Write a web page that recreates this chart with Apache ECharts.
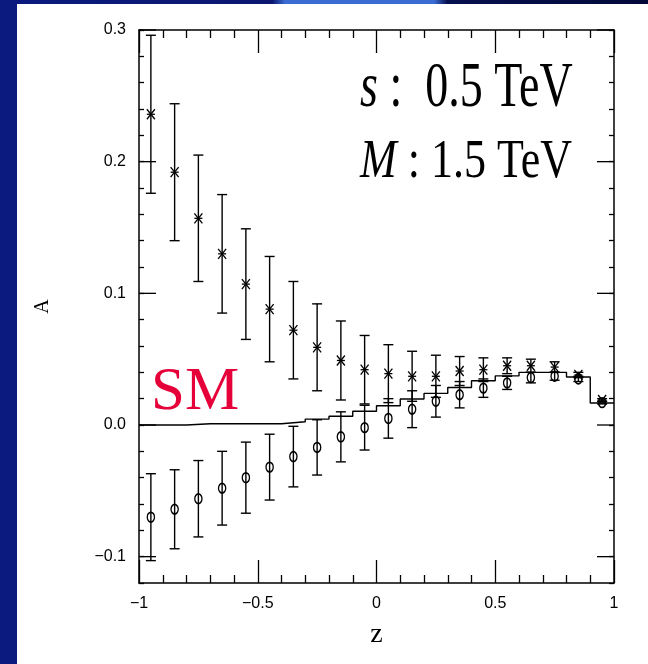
<!DOCTYPE html>
<html>
<head>
<meta charset="utf-8">
<script src="https://cdn.jsdelivr.net/npm/echarts@6/dist/echarts.min.js"></script>
<style>
  html, body { margin: 0; padding: 0; background: #ffffff; }
  #chart { width: 648px; height: 664px; }
</style>
</head>
<body>
<div id="chart"></div>
<script>
// Bin centres in z = cos(theta)
const binCentres = [-0.95, -0.85, -0.75, -0.65, -0.55, -0.45, -0.35, -0.25, -0.15, -0.05,
                    0.05, 0.15, 0.25, 0.35, 0.45, 0.55, 0.65, 0.75, 0.85, 0.95];

// Asymmetry with the heavy state (asterisks) and its statistical error
const heavyA   = [0.236, 0.192, 0.157, 0.130, 0.107, 0.088, 0.072, 0.059, 0.049, 0.042,
                  0.039, 0.037, 0.037, 0.041, 0.042, 0.045, 0.045, 0.044, 0.038, 0.019];
const heavyErr = [0.060, 0.052, 0.048, 0.045, 0.042, 0.040, 0.037, 0.033, 0.030, 0.026,
                  0.022, 0.019, 0.016, 0.011, 0.009, 0.006, 0.005, 0.004, 0.002, 0.001];

// Second set (open circles) and its error
const otherA   = [-0.070, -0.064, -0.056, -0.048, -0.040, -0.032, -0.024, -0.017, -0.009, -0.002,
                  0.005, 0.012, 0.018, 0.023, 0.028, 0.032, 0.036, 0.037, 0.035, 0.017];
const otherErr = [0.033, 0.030, 0.029, 0.028, 0.027, 0.025, 0.023, 0.021, 0.019, 0.017,
                  0.015, 0.014, 0.012, 0.010, 0.007, 0.005, 0.004, 0.003, 0.002, 0.001];

// Standard Model histogram: lower bin edges and bin contents
const smEdges  = [-1.0, -0.9, -0.8, -0.7, -0.6, -0.5, -0.4, -0.3, -0.2, -0.1,
                  0.0, 0.1, 0.2, 0.3, 0.4, 0.5, 0.6, 0.7, 0.8, 0.9];
const smLevels = [0.0, 0.0, 0.001, 0.001, 0.001, 0.001, 0.0025, 0.0045, 0.0066, 0.0104,
                  0.0146, 0.0197, 0.0240, 0.0285, 0.0336, 0.0373, 0.0400, 0.0400, 0.0365, 0.0167];
const smUpperEdge = 1.0;

// Tick labels
const xTickLabels = [-1, -0.5, 0, 0.5, 1];
const yTickLabels = [-0.1, 0.0, 0.1, 0.2, 0.3];

const INK = '#000000';
const minus = s => s.replace('-', '\u2212');

const histData = smEdges.map((e, i) => [e, smLevels[i]]);
histData.push([smUpperEdge, smLevels[smLevels.length - 1]]);

function seg(x1, y1, x2, y2, w) {
  return { type: 'line', shape: { x1, y1, x2, y2 }, style: { stroke: INK, lineWidth: w || 1.4 } };
}

function errorBars(kind) {
  return function (params, api) {
    const z = api.value(0), a = api.value(1), e = api.value(2);
    const top = api.coord([z, a + e]);
    const bot = api.coord([z, a - e]);
    const mid = api.coord([z, a]);
    const cap = 5;
    const kids = [
      seg(top[0], top[1], bot[0], bot[1]),
      seg(top[0] - cap, top[1], top[0] + cap, top[1]),
      seg(bot[0] - cap, bot[1], bot[0] + cap, bot[1])
    ];
    if (kind === 'star') {
      const w = 4, h = 5;
      kids.push(seg(mid[0] - w, mid[1] - h, mid[0] + w, mid[1] + h, 1.3));
      kids.push(seg(mid[0] - w, mid[1] + h, mid[0] + w, mid[1] - h, 1.3));
      kids.push(seg(mid[0] - w, mid[1], mid[0] + w, mid[1], 1.3));
    } else {
      kids.push({
        type: 'circle', x: mid[0], y: mid[1], scaleY: 1.35,
        shape: { cx: 0, cy: 0, r: 3.6 },
        style: { fill: 'none', stroke: INK, lineWidth: 1.3 }
      });
    }
    return { type: 'group', children: kids };
  };
}

// Long ticks at the labelled y values, on both the left and right frame edges
function majorYTicks(params, api) {
  const y = api.value(1);
  const l = api.coord([-1, y]);
  const r = api.coord([1, y]);
  const len = 17;
  return {
    type: 'group',
    children: [seg(l[0], l[1], l[0] + len, l[1], 1.3), seg(r[0] - len, r[1], r[0], r[1], 1.3)]
  };
}

const axisFont = { fontFamily: 'Liberation Sans', fontSize: 16, color: INK };

function xAxisDef(pos, labels) {
  return {
    type: 'value', position: pos, min: -1, max: 1, interval: 0.5,
    axisLine: { show: true, onZero: false, lineStyle: { color: INK, width: 1.5 } },
    axisTick: { show: true, inside: true, length: 23, lineStyle: { color: INK, width: 1.3 } },
    minorTick: { show: true, splitNumber: 5, length: 8, lineStyle: { color: INK, width: 1.3 } },
    axisLabel: labels ? Object.assign({
      show: true, margin: 13,
      customValues: xTickLabels,
      formatter: v => minus(String(v))
    }, axisFont) : { show: false },
    splitLine: { show: false }, minorSplitLine: { show: false }
  };
}

function yMinorAxis(pos) {
  return {
    type: 'value', position: pos, min: -0.12, max: 0.3, interval: 0.02,
    axisLine: { show: true, onZero: false, lineStyle: { color: INK, width: 1.5 } },
    axisTick: { show: true, inside: true, length: 5, lineStyle: { color: INK, width: 1.3 } },
    axisLabel: { show: false },
    splitLine: { show: false }
  };
}

const chart = echarts.init(document.getElementById('chart'), null, { renderer: 'canvas' });

chart.setOption({
  animation: false,
  backgroundColor: '#ffffff',
  grid: { left: 139, right: 34, top: 30, bottom: 81, containLabel: false },
  xAxis: [
    Object.assign(xAxisDef('bottom', true), {
      name: 'z', nameLocation: 'middle', nameGap: 38,
      nameTextStyle: { fontFamily: 'Liberation Serif', fontSize: 28, color: INK }
    }),
    xAxisDef('top', false)
  ],
  yAxis: [
    Object.assign(yMinorAxis('left'), {
      name: 'A', nameLocation: 'middle', nameGap: 86, nameRotate: 90,
      nameTextStyle: { fontFamily: 'Liberation Serif', fontSize: 20, color: INK }
    }),
    {
      type: 'value', position: 'left', min: -0.12, max: 0.3, interval: 0.02,
      axisLine: { show: false }, axisTick: { show: false }, splitLine: { show: false },
      axisLabel: Object.assign({
        show: true, margin: 13,
        customValues: yTickLabels,
        formatter: v => minus(v.toFixed(1))
      }, axisFont)
    },
    yMinorAxis('right')
  ],
  graphic: [
    { type: 'rect', z: 0, shape: { x: 0, y: 0, width: 17, height: 664 },
      style: { fill: '#0b1a7e' } },
    { type: 'rect', z: 0, shape: { x: 0, y: 0, width: 648, height: 4 },
      style: { fill: new echarts.graphic.LinearGradient(0, 0, 1, 0, [
        { offset: 0.0, color: '#0b1a7e' },
        { offset: 0.42, color: '#0a1670' },
        { offset: 0.44, color: '#3b6cd4' },
        { offset: 0.67, color: '#3b6cd4' },
        { offset: 0.69, color: '#06104e' },
        { offset: 1.0, color: '#020838' }
      ]) } },
    { type: 'text', z: 10, x: 360, y: 89, scaleY: 1.37,
      style: {
        text: '{i|s}{n| :  0.5 TeV}', verticalAlign: 'middle', align: 'left',
        rich: {
          i: { fontFamily: 'Liberation Serif', fontSize: 46, fontStyle: 'italic', fill: INK },
          n: { fontFamily: 'Liberation Serif', fontSize: 46, fill: INK }
        }
      } },
    { type: 'text', z: 10, x: 360, y: 163, scaleY: 1.24,
      style: {
        text: '{i|M}{n| : 1.5 TeV}', verticalAlign: 'middle', align: 'left',
        rich: {
          i: { fontFamily: 'Liberation Serif', fontSize: 44, fontStyle: 'italic', fill: INK },
          n: { fontFamily: 'Liberation Serif', fontSize: 44, fill: INK }
        }
      } },
    { type: 'text', z: 10, x: 151, y: 393,
      style: {
        text: 'SM', verticalAlign: 'middle', align: 'left',
        fontFamily: 'Liberation Serif', fontSize: 61, fill: '#e6003a'
      } }
  ],
  series: [
    {
      type: 'custom', name: 'yMajorTicks', xAxisIndex: 0, yAxisIndex: 0,
      data: yTickLabels.map(v => [-1, v]),
      encode: { x: 0, y: 1 }, clip: false, silent: true,
      renderItem: majorYTicks, z: 5
    },
    {
      type: 'line', name: 'SM', xAxisIndex: 0, yAxisIndex: 0,
      data: histData, step: 'end', showSymbol: false, symbol: 'none',
      lineStyle: { color: INK, width: 1.4 }, z: 3
    },
    {
      type: 'custom', name: 'heavy', xAxisIndex: 0, yAxisIndex: 0,
      data: binCentres.map((z, i) => [z, heavyA[i], heavyErr[i]]),
      renderItem: errorBars('star'), z: 4
    },
    {
      type: 'custom', name: 'other', xAxisIndex: 0, yAxisIndex: 0,
      data: binCentres.map((z, i) => [z, otherA[i], otherErr[i]]),
      renderItem: errorBars('circle'), z: 4
    }
  ]
});
</script>
</body>
</html>
